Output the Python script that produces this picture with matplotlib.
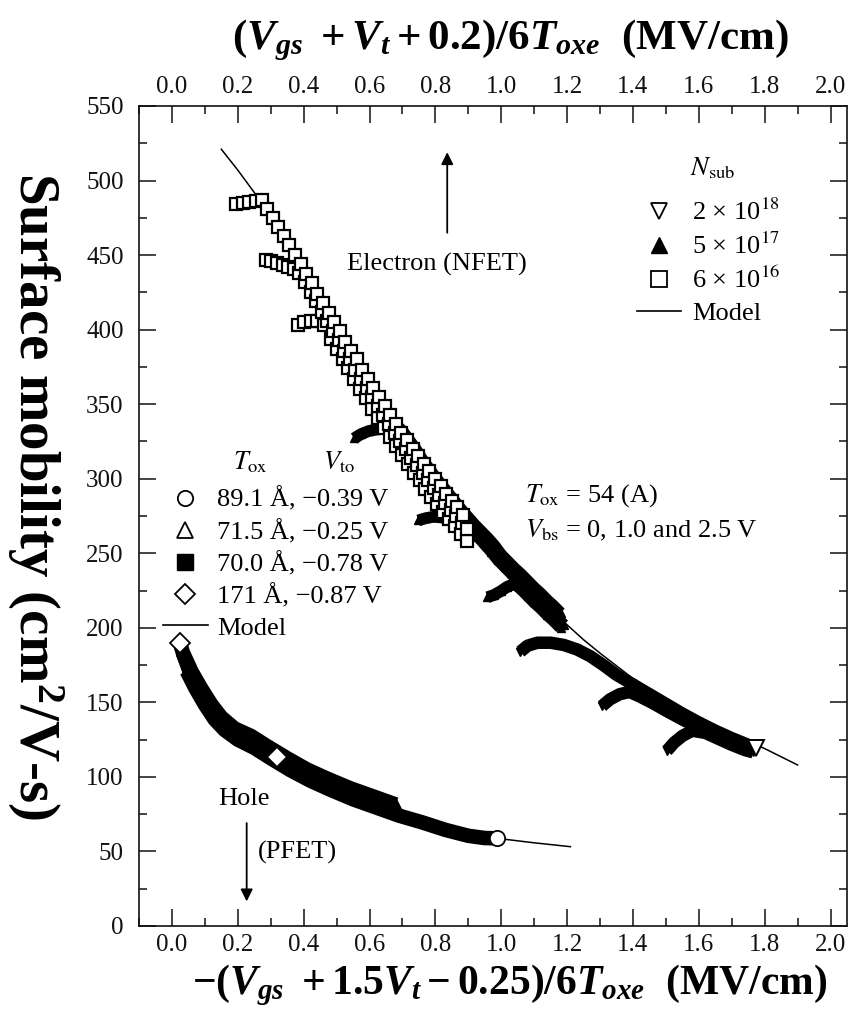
import matplotlib
matplotlib.use('Agg')
import matplotlib.pyplot as plt
from matplotlib.lines import Line2D
from matplotlib.ticker import MultipleLocator, FormatStrFormatter

plt.rcParams['font.family'] = ['Liberation Serif', 'DejaVu Serif']
plt.rcParams['mathtext.fontset'] = 'custom'
plt.rcParams['mathtext.rm'] = 'Liberation Serif:bold'
plt.rcParams['mathtext.it'] = 'Liberation Serif:italic:bold'
plt.rcParams['mathtext.bf'] = 'Liberation Serif:bold'

# ---------------- data ----------------
ELEC_MODEL_X = [0.15, 0.20, 0.25, 0.30, 0.35, 0.40, 0.45, 0.50, 0.55, 0.60, 0.65, 0.70, 0.75, 0.80, 0.85,
                0.90, 0.95, 1.00, 1.05, 1.10, 1.15, 1.20, 1.25, 1.30, 1.40, 1.50, 1.60, 1.70, 1.80, 1.90]
ELEC_MODEL_Y = [521, 507, 492, 475, 457, 438, 419, 400, 381, 363, 345, 328, 312, 297, 283,
                270, 258, 245, 234, 223, 212.5, 202, 192, 183, 166, 151.5, 139.5, 129, 119, 108]

# N_sub = 6e16 (open squares), three Vbs curves
S1_X = [0.195, 0.215, 0.235, 0.255, 0.272, 0.289, 0.306, 0.323, 0.340, 0.357, 0.374, 0.391, 0.408, 0.425,
        0.442, 0.459, 0.476, 0.493, 0.510, 0.527, 0.544, 0.561, 0.578, 0.595, 0.612, 0.629, 0.646, 0.663,
        0.680, 0.697, 0.714, 0.731, 0.748, 0.765, 0.782, 0.799, 0.816, 0.833, 0.850, 0.867, 0.884]
S1_Y = [484.5, 485, 485.5, 486.5, 487, 481, 475, 469, 463, 457, 450, 444, 437, 431,
        424, 418, 411, 405, 399, 392, 386, 380, 373, 367, 361, 355, 349, 343,
        337, 331, 326, 320, 315, 310, 305, 300, 295, 290, 285, 281, 276]
S2_X = [0.285, 0.302, 0.319, 0.336, 0.353, 0.370, 0.387, 0.404, 0.421, 0.438, 0.455, 0.472, 0.489,
        0.506, 0.523, 0.540, 0.557, 0.574, 0.591, 0.608, 0.625, 0.642, 0.659, 0.676, 0.693, 0.710,
        0.727, 0.744, 0.761, 0.778, 0.795, 0.812, 0.829, 0.846, 0.863, 0.880, 0.897]
S2_Y = [446.5, 446, 445, 443.5, 442, 441, 438, 432, 425, 419, 412, 406, 399,
        393, 386, 380, 373, 367, 361, 355, 349, 343, 337, 331, 325, 320,
        314, 309, 304, 299, 294, 289, 284, 279, 275, 270, 266]
S3_X = [0.382, 0.402, 0.422, 0.442, 0.462, 0.482, 0.500, 0.518, 0.536, 0.554, 0.572, 0.590, 0.608,
        0.626, 0.644, 0.662, 0.680, 0.698, 0.716, 0.734, 0.752, 0.770, 0.788, 0.806, 0.824, 0.842,
        0.860, 0.878, 0.896]
S3_Y = [403, 405, 406, 405.5, 403, 394, 387, 380, 374, 367, 360, 354, 347,
        341, 334, 328, 322, 316, 310, 304, 299, 293, 288, 283, 278, 273,
        268, 263, 258]

# N_sub = 5e17 (filled triangles)
T1_X = [0.553, 0.575, 0.598, 0.620, 0.642, 0.664, 0.686, 0.700, 0.720, 0.740, 0.760, 0.780, 0.800, 0.820,
        0.840, 0.860, 0.880, 0.900, 0.920, 0.940, 0.960, 0.980, 1.000, 1.020, 1.040, 1.060, 1.080, 1.100,
        1.120, 1.140, 1.160, 1.180]
T1_Y = [327, 330, 332, 333, 334, 335, 335, 332, 326, 320, 313, 307, 301, 295.5,
        290, 284.5, 279, 274, 269, 264.5, 260, 255, 249, 244.5, 240, 236, 231.5, 227,
        223, 218.5, 214.5, 210]
T2_X = [0.748, 0.770, 0.795, 0.820, 0.845, 0.870, 0.890, 0.910, 0.930, 0.950, 0.970, 0.990, 1.010,
        1.030, 1.050, 1.070, 1.090, 1.110, 1.130, 1.150, 1.170, 1.190]
T2_Y = [272, 273.5, 274.5, 274, 272.5, 270.5, 270.5, 265.5, 261, 256, 251, 245.5, 241,
        236.5, 232, 227.5, 223, 219, 214.5, 210.5, 206.5, 202]
T3_X = [0.958, 0.978, 0.998, 1.018, 1.040, 1.060, 1.080, 1.100, 1.120, 1.140, 1.160, 1.180]
T3_Y = [220.5, 222, 224.5, 227.5, 229.5, 226, 221.5, 217, 213, 208.5, 204.5, 200]

# N_sub = 2e18 (open inverted triangles, very dense)
D1_X = [1.058, 1.080, 1.110, 1.150, 1.190, 1.230, 1.270, 1.310, 1.350, 1.400, 1.450, 1.500, 1.550,
        1.600, 1.650, 1.700, 1.750, 1.775]
D1_Y = [184, 188, 190, 190, 188.5, 185.5, 181, 175, 168.5, 162, 155.5, 149, 142.5,
        136.5, 131, 126, 121.5, 119.5]
D2_X = [1.306, 1.330, 1.360, 1.390, 1.420, 1.460, 1.500, 1.550, 1.600, 1.650, 1.700, 1.740]
D2_Y = [147.5, 152, 155.5, 157, 154, 149.5, 144.5, 138.5, 133, 128, 123.5, 120]
D3_X = [1.503, 1.525, 1.550, 1.580, 1.620, 1.660, 1.700, 1.740, 1.765]
D3_Y = [117.5, 123, 127.5, 131, 129.5, 125.5, 121.5, 118, 116.5]

# Holes (PFET)
HOLE_MODEL_X = [0.02, 0.06, 0.10, 0.14, 0.19, 0.25, 0.31, 0.38, 0.46, 0.56, 0.66, 0.76, 0.86, 0.98, 1.10, 1.21]
HOLE_MODEL_Y = [186, 167.5, 152, 139.5, 129, 121, 113.5, 105, 96.5, 87.5, 79.5, 72, 65.5, 59, 55.8, 53.2]
H89_X = [0.045, 0.07, 0.10, 0.13, 0.16, 0.20, 0.25, 0.30, 0.36, 0.42, 0.48, 0.55, 0.62, 0.69, 0.76,
         0.83, 0.90, 0.95, 0.986]
H89_Y = [171, 160, 148.5, 138.5, 131.5, 125, 119.5, 112.5, 104.5, 97.5, 91.5, 85, 79.5, 74, 69.5,
         64.5, 60.5, 59, 58.8]
H71_X = [0.035, 0.06, 0.09, 0.12, 0.15, 0.19, 0.24, 0.29, 0.35, 0.41, 0.47, 0.54, 0.61, 0.68]
H71_Y = [182.5, 170.5, 159, 148.5, 140, 132.5, 127.5, 120.5, 112.5, 105, 99, 92.5, 87, 81.5]
H70_X = [0.09, 0.12, 0.15, 0.18, 0.21, 0.24, 0.27, 0.30, 0.34, 0.38, 0.42, 0.47, 0.52, 0.57]
H70_Y = [156, 146, 138, 133, 129.5, 126.5, 122, 116.5, 111, 106, 101.5, 96, 91.5, 87]
H171_X = [0.024, 0.035, 0.05, 0.07, 0.09, 0.12, 0.15, 0.18, 0.21, 0.24, 0.27, 0.318]
H171_Y = [190, 182, 173, 163, 155.5, 145, 136.5, 131, 127, 124, 120, 113.5]

NSUB_LABELS = ['2 × 10$^{18}$', '5 × 10$^{17}$', '6 × 10$^{16}$', 'Model']
TOX_LABELS = ['89.1 Å, −0.39 V', '71.5 Å, −0.25 V', '70.0 Å, −0.78 V', '171 Å, −0.87 V', 'Model']
X_TICK_FMT = '%.1f'

# ---------------- figure ----------------
fig = plt.figure(figsize=(8.54, 10.30), dpi=100)
ax = fig.add_axes([139/854, 1-926/1030, 708/854, 820/1030])
ax.set_xlim(-0.1, 2.05)
ax.set_ylim(0, 550)

INK = 'black'

# model lines
ax.plot(ELEC_MODEL_X, ELEC_MODEL_Y, color=INK, lw=1.1, zorder=2)
ax.plot(HOLE_MODEL_X, HOLE_MODEL_Y, color=INK, lw=1.1, zorder=2)

band = dict(color=INK, solid_capstyle='butt', solid_joinstyle='round', zorder=3)
# 5e17 filled triangles
for xs, ys in [(T1_X, T1_Y), (T2_X, T2_Y), (T3_X, T3_Y)]:
    ax.plot(xs, ys, lw=8.5, marker='^', ms=6, mfc=INK, mec=INK, **band)
# 2e18 inverted triangles
for xs, ys in [(D1_X, D1_Y), (D2_X, D2_Y), (D3_X, D3_Y)]:
    ax.plot(xs, ys, lw=9, marker='v', ms=6, mfc=INK, mec=INK, **band)
ax.plot(D1_X[-1], D1_Y[-1], ls='none', marker='v', ms=11, mfc='white', mec=INK, mew=1.4, zorder=5)

# 6e16 open squares
for xs, ys in [(S3_X, S3_Y), (S2_X, S2_Y), (S1_X, S1_Y)]:
    ax.plot(xs, ys, ls='none', marker='s', ms=9, mfc='white', mec=INK, mew=1.6, zorder=4)

# holes
for xs, ys, m in [(H71_X, H71_Y, '^'), (H70_X, H70_Y, 's'), (H89_X, H89_Y, 'o'), (H171_X, H171_Y, 'D')]:
    ax.plot(xs, ys, lw=10.5, marker=m, ms=7, mfc=INK, mec=INK, **band)
ax.plot(H89_X[-1], H89_Y[-1], ls='none', marker='o', ms=11, mfc='white', mec=INK, mew=1.3, zorder=5)
ax.plot([H171_X[0], H171_X[-1]], [H171_Y[0], H171_Y[-1]], ls='none', marker='D', ms=10,
        mfc='white', mec=INK, mew=1.3, zorder=5)

# ---------------- axes styling ----------------
ax.xaxis.set_major_locator(MultipleLocator(0.2))
ax.xaxis.set_minor_locator(MultipleLocator(0.1))
ax.yaxis.set_major_locator(MultipleLocator(50))
ax.yaxis.set_minor_locator(MultipleLocator(25))
ax.xaxis.set_major_formatter(FormatStrFormatter(X_TICK_FMT))
ax.tick_params(which='both', direction='in', top=True, right=True, labeltop=True,
               labelbottom=True, width=1.1, colors='#111111', labelsize=18)
ax.tick_params(which='major', length=12)
ax.tick_params(which='minor', length=6)
ax.tick_params(axis='x', pad=5.5)
ax.tick_params(axis='y', pad=11)
for sp in ax.spines.values():
    sp.set_linewidth(1.2)
    sp.set_color('#111111')

# ---------------- annotations ----------------
FS = 19
ax.text(0.532, 443.4, 'Electron (NFET)', fontsize=FS, ha='left', va='center')
ax.annotate('', xy=(0.836, 519), xytext=(0.836, 465),
            arrowprops=dict(arrowstyle='-|>', color=INK, lw=1.3, mutation_scale=18, shrinkA=0, shrinkB=0))
ax.text(0.140, 85.2, 'Hole', fontsize=FS, ha='left', va='center')
ax.text(0.261, 49.0, '(PFET)', fontsize=FS, ha='left', va='center')
ax.annotate('', xy=(0.227, 16.5), xytext=(0.227, 69),
            arrowprops=dict(arrowstyle='-|>', color=INK, lw=1.3, mutation_scale=18, shrinkA=0, shrinkB=0))

ax.text(1.072, 288.4, r'$T_{\mathrm{ox}}$ = 54 (A)', fontsize=FS, ha='left', va='center', math_fontfamily='stix')
ax.text(1.072, 265.6, r'$V_{\mathrm{bs}}$ = 0, 1.0 and 2.5 V', fontsize=FS, ha='left', va='center',
        math_fontfamily='stix')

# N_sub legend
ax.text(1.573, 508.4, r'$N_{\mathrm{sub}}$', fontsize=FS, ha='left', va='center', math_fontfamily='stix')
h_n = [Line2D([], [], ls='none', marker='v', ms=12, mfc='white', mec=INK, mew=1.3),
       Line2D([], [], ls='none', marker='^', ms=12, mfc=INK, mec=INK),
       Line2D([], [], ls='none', marker='s', ms=11, mfc='white', mec=INK, mew=1.3),
       Line2D([], [], color=INK, lw=1.2)]
leg1 = ax.legend(h_n, NSUB_LABELS, loc='upper left', bbox_to_anchor=(0.7034, 0.8866), frameon=False,
                 fontsize=FS, handlelength=1.65, handletextpad=0.45, labelspacing=0.3,
                 borderpad=0, borderaxespad=0)
for t in leg1.get_texts():
    t.set_math_fontfamily('stix')
ax.add_artist(leg1)

# Tox legend
ax.text(0.185, 311.2, r'$T_{\mathrm{ox}}$', fontsize=FS, ha='left', va='center', math_fontfamily='stix')
ax.text(0.459, 311.2, r'$V_{\mathrm{to}}$', fontsize=FS, ha='left', va='center', math_fontfamily='stix')
h_t = [Line2D([], [], ls='none', marker='o', ms=11, mfc='white', mec=INK, mew=1.3),
       Line2D([], [], ls='none', marker='^', ms=12, mfc='white', mec=INK, mew=1.3),
       Line2D([], [], ls='none', marker='s', ms=11, mfc=INK, mec=INK),
       Line2D([], [], ls='none', marker='D', ms=10, mfc='white', mec=INK, mew=1.3),
       Line2D([], [], color=INK, lw=1.2)]
leg2 = ax.legend(h_t, TOX_LABELS, loc='upper left', bbox_to_anchor=(0.0339, 0.535), frameon=False,
                 fontsize=FS, handlelength=1.7, handletextpad=0.35, labelspacing=0.29,
                 borderpad=0, borderaxespad=0)

# ---------------- axis titles ----------------
fig.text(510/854, 1-40/1030, r'$(V_{gs}\ +V_t+0.2)/6T_{oxe}$  (MV/cm)', fontsize=31,
         fontweight='bold', ha='center', va='center')
fig.text(510/854, 1-985/1030, r'$-(V_{gs}\ +1.5V_t-0.25)/6T_{oxe}$  (MV/cm)', fontsize=30,
         fontweight='bold', ha='center', va='center')
fig.text(35/854, 1-496/1030, 'Surface mobility (cm$^2$/V-s)', fontsize=41, fontweight='bold',
         rotation=270, ha='center', va='center')

fig.savefig('out.png', dpi=100)
